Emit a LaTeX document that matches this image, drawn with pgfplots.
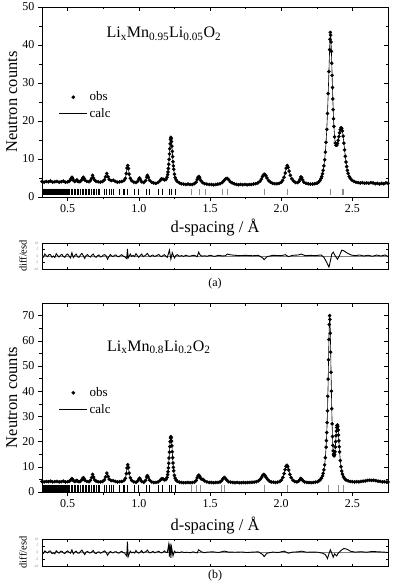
\documentclass[border=0pt]{standalone}
\usepackage{fontspec}
\setmainfont{Liberation Serif}
\usepackage{pgfplots}
\usepackage{pgfplotstable}
\pgfplotsset{compat=1.18}

% observed profile, panel (a)
\pgfplotstableread[row sep=\\]{d y\\
0.320 4.1\\ 0.335 3.9\\ 0.350 4.1\\ 0.365 4.0\\ 0.380 4.2\\ 0.395 3.9\\ 0.410 4.0\\ 0.425 4.1\\ 0.440 3.9\\ 0.455 4.0\\
0.470 4.2\\ 0.485 3.9\\ 0.500 4.0\\ 0.510 4.1\\ 0.520 4.5\\ 0.525 4.9\\ 0.530 5.2\\ 0.535 4.9\\ 0.540 4.4\\ 0.550 4.1\\
0.560 4.3\\ 0.565 4.5\\ 0.570 4.2\\ 0.580 4.0\\ 0.590 4.1\\ 0.600 4.5\\ 0.605 4.9\\ 0.610 5.2\\ 0.615 4.9\\ 0.622 4.4\\
0.635 4.1\\ 0.650 4.0\\ 0.660 4.3\\ 0.668 4.9\\ 0.675 5.7\\ 0.682 5.0\\ 0.690 4.4\\ 0.700 4.1\\ 0.715 4.0\\ 0.730 3.9\\
0.745 4.1\\ 0.758 4.5\\ 0.766 5.3\\ 0.775 6.2\\ 0.784 5.3\\ 0.792 4.6\\ 0.805 4.3\\ 0.820 4.4\\ 0.835 4.1\\ 0.850 3.9\\
0.865 4.0\\ 0.880 4.1\\ 0.895 4.3\\ 0.905 4.9\\ 0.912 6.2\\ 0.917 7.6\\ 0.922 8.3\\ 0.927 7.5\\ 0.932 6.0\\ 0.940 4.9\\
0.950 4.3\\ 0.965 3.9\\ 0.980 3.8\\ 0.992 4.1\\ 1.000 4.7\\ 1.005 5.0\\ 1.010 4.7\\ 1.020 4.0\\ 1.035 3.8\\ 1.048 4.3\\
1.055 5.2\\ 1.060 5.7\\ 1.066 5.2\\ 1.075 4.4\\ 1.090 3.9\\ 1.105 3.7\\ 1.120 3.6\\ 1.135 3.8\\ 1.150 4.3\\ 1.160 4.8\\
1.170 4.7\\ 1.180 4.5\\ 1.190 4.6\\ 1.198 5.2\\ 1.2025 5.9\\ 1.205 6.6\\ 1.2075 7.5\\ 1.210 8.6\\ 1.2125 9.9\\ 1.215 11.3\\
1.2175 12.7\\ 1.220 14.0\\ 1.2225 15.1\\ 1.225 15.7\\ 1.2275 15.4\\ 1.230 14.6\\ 1.2325 13.4\\ 1.235 12.0\\ 1.2375 10.6\\ 1.240 9.3\\
1.2425 8.2\\ 1.245 7.3\\ 1.250 6.0\\ 1.255 5.1\\ 1.262 4.5\\ 1.270 4.1\\ 1.285 3.7\\ 1.300 3.5\\ 1.315 3.4\\ 1.330 3.3\\
1.345 3.4\\ 1.360 3.3\\ 1.375 3.3\\ 1.390 3.5\\ 1.402 3.9\\ 1.410 4.6\\ 1.416 5.2\\ 1.422 5.4\\ 1.428 5.0\\ 1.436 4.3\\
1.448 3.8\\ 1.462 3.5\\ 1.478 3.4\\ 1.495 3.3\\ 1.510 3.3\\ 1.525 3.2\\ 1.540 3.3\\ 1.555 3.4\\ 1.570 3.5\\ 1.585 3.8\\
1.598 4.3\\ 1.610 4.8\\ 1.620 4.9\\ 1.630 4.6\\ 1.642 4.0\\ 1.655 3.7\\ 1.670 3.5\\ 1.685 3.3\\ 1.700 3.2\\ 1.715 3.3\\
1.730 3.2\\ 1.745 3.3\\ 1.760 3.2\\ 1.775 3.3\\ 1.790 3.3\\ 1.805 3.4\\ 1.820 3.5\\ 1.835 3.7\\ 1.850 4.1\\ 1.860 4.7\\
1.868 5.4\\ 1.876 5.9\\ 1.884 6.0\\ 1.892 5.6\\ 1.900 5.0\\ 1.912 4.3\\ 1.925 3.9\\ 1.940 3.6\\ 1.955 3.5\\ 1.970 3.5\\
1.985 3.6\\ 2.000 3.9\\ 2.010 4.4\\ 2.020 5.2\\ 2.028 6.3\\ 2.035 7.6\\ 2.042 8.3\\ 2.049 7.8\\ 2.056 6.8\\ 2.064 5.7\\
2.074 4.8\\ 2.086 4.2\\ 2.100 3.8\\ 2.115 3.8\\ 2.125 4.1\\ 2.132 4.7\\ 2.138 5.3\\ 2.144 5.1\\ 2.150 4.5\\ 2.160 3.9\\
2.175 3.6\\ 2.190 3.5\\ 2.205 3.4\\ 2.220 3.4\\ 2.235 3.5\\ 2.250 3.6\\ 2.262 3.9\\ 2.272 4.3\\ 2.280 4.9\\ 2.285 5.4\\
2.290 6.1\\ 2.295 7.0\\ 2.300 8.2\\ 2.305 9.8\\ 2.310 11.8\\ 2.315 14.4\\ 2.320 17.8\\ 2.325 22.0\\ 2.330 27.2\\ 2.335 33.0\\
2.340 38.8\\ 2.3425 41.5\\ 2.345 43.3\\ 2.3475 42.6\\ 2.350 40.8\\ 2.3525 38.3\\ 2.355 35.2\\ 2.3575 32.0\\ 2.360 28.8\\ 2.3625 25.8\\
2.365 23.0\\ 2.3675 20.6\\ 2.370 18.6\\ 2.375 15.8\\ 2.380 14.2\\ 2.385 13.6\\ 2.390 13.6\\ 2.395 14.1\\ 2.400 14.9\\ 2.405 15.9\\
2.410 16.9\\ 2.415 17.7\\ 2.420 18.2\\ 2.425 18.1\\ 2.430 17.4\\ 2.435 16.0\\ 2.440 14.2\\ 2.445 12.4\\ 2.450 10.7\\ 2.455 9.2\\
2.460 8.0\\ 2.465 7.0\\ 2.470 6.2\\ 2.4775 5.4\\ 2.485 4.9\\ 2.495 4.5\\ 2.510 4.1\\ 2.525 3.9\\ 2.540 3.8\\ 2.555 3.7\\
2.570 3.8\\ 2.585 3.6\\ 2.600 3.7\\ 2.615 3.6\\ 2.630 3.8\\ 2.645 3.7\\ 2.660 3.5\\ 2.675 3.6\\ 2.690 3.4\\ 2.705 3.6\\
2.720 3.5\\ 2.735 3.7\\ 2.750 3.6\\
}\obsA

% observed profile, panel (b)
\pgfplotstableread[row sep=\\]{d y\\
0.320 4.2\\ 0.335 4.0\\ 0.350 4.2\\ 0.365 4.1\\ 0.380 4.3\\ 0.395 4.0\\ 0.410 4.1\\ 0.425 4.2\\ 0.440 4.0\\ 0.455 4.1\\
0.470 4.3\\ 0.485 4.0\\ 0.500 4.1\\ 0.510 4.2\\ 0.520 4.6\\ 0.525 5.0\\ 0.530 5.3\\ 0.535 5.0\\ 0.540 4.5\\ 0.550 4.2\\
0.560 4.4\\ 0.565 4.6\\ 0.570 4.3\\ 0.580 4.1\\ 0.590 4.2\\ 0.600 4.8\\ 0.605 5.3\\ 0.610 5.7\\ 0.615 5.3\\ 0.622 4.6\\
0.635 4.2\\ 0.650 4.1\\ 0.660 4.6\\ 0.668 5.7\\ 0.675 7.0\\ 0.682 5.9\\ 0.690 4.8\\ 0.700 4.3\\ 0.715 4.1\\ 0.730 4.0\\
0.745 4.2\\ 0.758 4.8\\ 0.766 6.0\\ 0.775 7.5\\ 0.784 6.2\\ 0.792 5.1\\ 0.805 4.5\\ 0.820 4.5\\ 0.835 4.2\\ 0.850 4.0\\
0.865 4.1\\ 0.880 4.2\\ 0.895 4.5\\ 0.905 5.4\\ 0.912 7.3\\ 0.917 9.5\\ 0.922 10.8\\ 0.927 9.7\\ 0.932 7.5\\ 0.940 5.6\\
0.950 4.6\\ 0.965 4.0\\ 0.980 3.9\\ 0.992 4.3\\ 1.000 5.1\\ 1.005 5.5\\ 1.010 5.1\\ 1.020 4.2\\ 1.035 3.9\\ 1.048 4.6\\
1.055 5.9\\ 1.060 6.5\\ 1.066 5.9\\ 1.075 4.8\\ 1.090 4.0\\ 1.105 3.8\\ 1.120 3.8\\ 1.135 4.0\\ 1.150 4.6\\ 1.160 5.3\\
1.170 5.2\\ 1.180 4.8\\ 1.190 4.9\\ 1.198 5.8\\ 1.2025 6.9\\ 1.205 8.0\\ 1.2075 9.6\\ 1.210 11.4\\ 1.2125 13.5\\ 1.215 15.8\\
1.2175 18.0\\ 1.220 20.0\\ 1.2225 21.4\\ 1.225 22.0\\ 1.2275 21.5\\ 1.230 20.2\\ 1.2325 18.3\\ 1.235 16.0\\ 1.2375 13.6\\ 1.240 11.5\\
1.2425 9.8\\ 1.245 8.4\\ 1.250 6.6\\ 1.255 5.5\\ 1.262 4.7\\ 1.270 4.3\\ 1.285 3.9\\ 1.300 3.8\\ 1.315 3.7\\ 1.330 3.7\\
1.345 3.8\\ 1.360 3.7\\ 1.375 3.8\\ 1.390 3.9\\ 1.402 4.5\\ 1.410 5.6\\ 1.416 6.4\\ 1.422 6.7\\ 1.428 6.1\\ 1.436 5.3\\
1.444 5.0\\ 1.452 5.0\\ 1.462 4.4\\ 1.478 4.0\\ 1.495 3.8\\ 1.510 3.8\\ 1.525 3.7\\ 1.540 3.8\\ 1.555 3.8\\ 1.570 4.0\\
1.582 4.5\\ 1.592 5.3\\ 1.600 5.8\\ 1.608 5.4\\ 1.618 4.7\\ 1.630 4.1\\ 1.645 3.9\\ 1.660 3.8\\ 1.675 3.7\\ 1.690 3.8\\
1.705 3.7\\ 1.720 3.7\\ 1.735 3.8\\ 1.750 3.7\\ 1.765 3.8\\ 1.780 3.8\\ 1.795 3.9\\ 1.810 3.9\\ 1.825 4.1\\ 1.840 4.4\\
1.852 5.0\\ 1.862 5.8\\ 1.870 6.6\\ 1.878 7.0\\ 1.886 6.6\\ 1.894 5.8\\ 1.904 5.0\\ 1.916 4.4\\ 1.930 4.0\\ 1.945 3.9\\
1.960 3.8\\ 1.975 3.9\\ 1.990 4.2\\ 2.002 4.8\\ 2.012 5.8\\ 2.020 7.3\\ 2.027 8.9\\ 2.034 10.2\\ 2.040 10.6\\ 2.046 10.0\\
2.053 8.7\\ 2.061 7.0\\ 2.070 5.7\\ 2.082 4.7\\ 2.095 4.2\\ 2.110 4.0\\ 2.122 4.3\\ 2.130 4.9\\ 2.137 5.4\\ 2.144 5.1\\
2.152 4.5\\ 2.165 4.0\\ 2.180 3.8\\ 2.195 3.8\\ 2.210 3.7\\ 2.225 3.8\\ 2.240 3.9\\ 2.255 4.1\\ 2.265 4.4\\ 2.275 4.9\\
2.2825 5.5\\ 2.290 6.4\\ 2.295 7.4\\ 2.300 8.8\\ 2.305 10.8\\ 2.310 13.6\\ 2.315 17.8\\ 2.3175 20.4\\ 2.320 23.6\\ 2.3225 27.5\\
2.325 32.2\\ 2.3275 38.0\\ 2.330 44.8\\ 2.3325 52.5\\ 2.335 60.5\\ 2.3375 66.5\\ 2.340 70.0\\ 2.3425 68.5\\ 2.345 63.0\\ 2.3475 55.5\\
2.350 47.5\\ 2.3525 40.0\\ 2.355 33.0\\ 2.3575 27.0\\ 2.360 22.0\\ 2.3625 18.5\\ 2.365 16.3\\ 2.3675 15.0\\ 2.370 14.4\\ 2.3725 14.4\\
2.375 14.9\\ 2.3775 16.0\\ 2.380 17.8\\ 2.3825 20.0\\ 2.385 22.3\\ 2.3875 24.2\\ 2.390 25.6\\ 2.3925 26.4\\ 2.395 26.6\\ 2.3975 26.0\\
2.400 24.6\\ 2.4025 22.6\\ 2.405 20.3\\ 2.4075 18.0\\ 2.410 15.9\\ 2.415 12.5\\ 2.420 10.0\\ 2.425 8.3\\ 2.430 7.1\\ 2.4375 6.0\\
2.445 5.3\\ 2.455 4.8\\ 2.470 4.4\\ 2.485 4.2\\ 2.500 4.1\\ 2.515 4.0\\ 2.530 4.1\\ 2.545 4.0\\ 2.560 4.2\\ 2.575 4.3\\
2.590 4.4\\ 2.605 4.6\\ 2.620 4.7\\ 2.635 4.6\\ 2.650 4.7\\ 2.665 4.5\\ 2.680 4.3\\ 2.695 4.2\\ 2.710 4.0\\ 2.725 4.1\\
2.740 3.9\\ 2.750 4.0\\
}\obsB

% reflection positions (black and grey sets); ya, yb = bar centre in panel (a), (b)
\pgfplotstableread[row sep=\\]{d ya yb\\
0.322 1.35 1.45\\ 0.328 1.35 1.45\\ 0.334 1.35 1.45\\ 0.340 1.35 1.45\\ 0.346 1.35 1.45\\ 0.352 1.35 1.45\\
0.358 1.35 1.45\\ 0.364 1.35 1.45\\ 0.370 1.35 1.45\\ 0.376 1.35 1.45\\ 0.382 1.35 1.45\\ 0.388 1.35 1.45\\
0.394 1.35 1.45\\ 0.400 1.35 1.45\\ 0.406 1.35 1.45\\ 0.412 1.35 1.45\\ 0.418 1.35 1.45\\ 0.424 1.35 1.45\\
0.430 1.35 1.45\\ 0.436 1.35 1.45\\ 0.442 1.35 1.45\\ 0.448 1.35 1.45\\ 0.454 1.35 1.45\\ 0.460 1.35 1.45\\
0.466 1.35 1.45\\ 0.472 1.35 1.45\\ 0.478 1.35 1.45\\ 0.484 1.35 1.45\\ 0.490 1.35 1.45\\ 0.496 1.35 1.45\\
0.503 1.35 1.45\\ 0.514 1.35 1.45\\ 0.526 1.35 1.45\\ 0.537 1.35 1.45\\ 0.547 1.35 1.45\\ 0.556 1.35 1.45\\
0.568 1.35 1.45\\ 0.579 1.35 1.45\\ 0.589 1.35 1.45\\ 0.601 1.35 1.45\\ 0.613 1.35 1.45\\ 0.625 1.35 1.45\\
0.634 1.35 1.45\\ 0.646 1.35 1.45\\ 0.655 1.35 1.45\\ 0.667 1.35 1.45\\ 0.678 1.35 1.45\\ 0.690 1.35 1.45\\
0.702 1.35 1.45\\ 0.714 1.35 1.45\\ 0.725 1.35 1.45\\ 0.761 1.35 1.45\\ 0.772 1.35 1.45\\ 0.796 1.35 1.45\\
0.808 1.35 1.45\\ 0.824 1.35 1.45\\ 0.866 1.35 1.45\\ 0.889 1.35 1.45\\ 0.901 1.35 1.45\\ 0.918 1.35 1.45\\
0.967 1.35 1.45\\ 0.995 1.35 1.45\\ 1.054 1.35 1.45\\ 1.077 1.35 1.45\\ 1.140 1.35 1.45\\ 1.167 1.35 1.45\\
1.213 1.35 1.45\\ 1.230 1.35 1.45\\ 1.254 1.35 1.45\\
}\refBlack
\pgfplotstableread[row sep=\\]{d y\\
1.370 1.35\\ 1.425 1.35\\ 1.465 1.35\\ 1.590 1.35\\ 1.620 1.35\\ 1.880 1.35\\ 2.040 1.35\\ 2.345 1.35\\ 2.430 1.35\\ 2.440 1.35\\
}\refGreyA
\pgfplotstableread[row sep=\\]{d y\\
1.370 1.45\\ 1.406 1.45\\ 1.430 1.45\\ 1.580 1.45\\ 1.600 1.45\\ 1.880 1.45\\ 2.040 1.45\\ 2.333 1.45\\ 2.400 1.45\\ 2.440 1.45\\
}\refGreyB

\pgfplotsset{
  base/.style={scale only axis, width=346pt, xmin=0.32, xmax=2.75,
    xtick={0.5,1,1.5,2,2.5}, minor x tick num=1,
    tick style={black, line width=0.5pt}, axis line style={line width=0.6pt},
    major tick length=4pt, minor tick length=2.5pt,
    /pgf/number format/assume math mode=true,
    ticklabel style={font=\fontsize{12}{12}\selectfont}},
  main/.style={base, tick align=outside, xtick pos=left, ytick pos=left, minor y tick num=1,
    xticklabel style={/pgf/number format/.cd, fixed, fixed zerofill, precision=1},
    xlabel={d-spacing / Å}, ylabel={Neutron counts},
    label style={font=\fontsize{16.5}{16.5}\selectfont},
    ylabel style={at={(axis description cs:-0.087,0.5)}, anchor=center},
    legend style={draw=none, fill=none, font=\fontsize{13}{13}\selectfont,
      at={(axis description cs:0.04,0.575)}, anchor=north west, row sep=2pt},
    legend cell align=left},
  inner/.style={base, tick align=inside, xtick pos=right, ytick pos=right, minor y tick num=1,
    xticklabels={}, yticklabels={}},
  diff/.style={base, height=26pt, ymin=-10, ymax=10, ytick={-10,-5,0,5,10},
    tick align=inside, major tick length=2.5pt, minor tick length=1.5pt, xticklabels={},
    yticklabel style={font=\fontsize{3.5}{3.5}\selectfont, text=gray},
    ylabel={diff/esd}, ylabel style={font=\fontsize{10.5}{10.5}\selectfont,
      at={(axis description cs:-0.055,0.5)}, anchor=center}},
  obsimg/.style={legend image code/.code={\fill (14pt,0pt) circle (1.6pt);}},
  calcimg/.style={legend image code/.code={\draw[line width=0.6pt] (0pt,0pt) -- (28pt,0pt);}},
  refl/.style={only marks, mark=|, mark options={line width=0.8pt}, forget plot},
  obs/.style={only marks, mark=*, mark size=1.6pt, black, obsimg},
  calc/.style={black, line width=0.6pt, calcimg},
  dtrace/.style={black, line width=0.9pt},
}

\begin{document}
\begin{tikzpicture}
\path[use as bounding box] (0,0) rectangle (392pt,-585pt);

% ---- panel (a)
\begin{axis}[main, at={(42pt,-7pt)}, anchor=north west, height=190pt, ymin=0, ymax=50,
  ytick={0,10,...,50}, xlabel style={at={(axis description cs:0.5,-0.163)}, anchor=center}]
\addplot[obs] table[x=d, y=y] {\obsA};
\addlegendentry{obs}
\addplot[calc] table[x=d, y=y] {\obsA};
\addlegendentry{calc}
\addplot[refl, mark size=3.2pt, black] table[x=d, y=ya] {\refBlack};
\addplot[refl, mark size=3.2pt, black!45] table[x=d, y=y] {\refGreyA};
\node[font=\fontsize{16}{16}\selectfont] at (axis cs:1.176,42.9)
  {Li\textsubscript{x}Mn\textsubscript{0.95}Li\textsubscript{0.05}O\textsubscript{2}};
\end{axis}
\begin{axis}[inner, at={(42pt,-7pt)}, anchor=north west, height=190pt, ymin=0, ymax=50, ytick={0,10,...,50}]
\addplot[draw=none] coordinates {(1,1)};
\end{axis}

\begin{axis}[diff, at={(42pt,-243pt)}, anchor=north west]
\addplot[gray, line width=0.5pt] coordinates {(0.32,0) (2.75,0)};
\addplot[dtrace] table[row sep=\\] {d y\\
0.32 0.5\\ 0.33 -0.8\\ 0.34 1.5\\ 0.35 0.2\\ 0.36 -0.5\\ 0.37 1.2\\ 0.38 1.0\\ 0.39 -1.0\\ 0.40 0.0\\ 0.41 -1.2\\
0.42 1.8\\ 0.43 0.3\\ 0.44 -0.8\\ 0.45 0.6\\ 0.46 1.2\\ 0.47 -0.4\\ 0.48 -1.0\\ 0.49 0.8\\ 0.50 1.5\\ 0.51 0.0\\
0.52 -1.5\\ 0.53 2.5\\ 0.54 -1.2\\ 0.55 0.4\\ 0.56 1.5\\ 0.57 -0.6\\ 0.58 -1.0\\ 0.59 0.8\\ 0.60 2.0\\ 0.61 0.2\\
0.62 -1.8\\ 0.63 0.5\\ 0.64 1.0\\ 0.65 -0.2\\ 0.66 -0.8\\ 0.67 0.6\\ 0.68 1.5\\ 0.69 -0.5\\ 0.70 -1.0\\ 0.71 0.3\\
0.72 0.8\\ 0.73 -0.7\\ 0.74 -0.5\\ 0.75 0.7\\ 0.76 1.0\\ 0.77 0.2\\ 0.78 -2.5\\ 0.79 -0.5\\ 0.80 1.2\\ 0.81 0.0\\
0.82 -0.5\\ 0.83 0.6\\ 0.84 0.8\\ 0.85 -0.3\\ 0.86 -0.6\\ 0.87 0.5\\ 0.88 1.0\\ 0.89 0.0\\ 0.90 -0.5\\ 0.915 -2.0\\
0.92 5.5\\ 0.925 -1.5\\ 0.94 1.5\\ 0.95 -0.3\\ 0.96 0.5\\ 0.97 -0.5\\ 0.98 1.8\\ 0.99 0.2\\ 1.00 -1.0\\ 1.01 0.5\\
1.02 1.5\\ 1.03 -0.4\\ 1.04 0.0\\ 1.05 0.8\\ 1.06 2.0\\ 1.07 0.3\\ 1.08 -0.5\\ 1.09 0.4\\ 1.10 0.8\\ 1.11 -0.3\\
1.12 0.0\\ 1.13 0.6\\ 1.14 1.2\\ 1.15 0.0\\ 1.16 -0.5\\ 1.17 0.4\\ 1.18 1.0\\ 1.19 -0.2\\ 1.20 -1.0\\ 1.215 4.5\\
1.225 -2.5\\ 1.235 2.5\\ 1.25 -1.5\\ 1.26 0.4\\ 1.27 1.0\\ 1.285 -0.2\\ 1.30 0.3\\ 1.315 -0.3\\ 1.33 0.6\\ 1.345 0.0\\
1.36 -0.2\\ 1.375 0.4\\ 1.39 0.5\\ 1.41 -0.5\\ 1.42 3.0\\ 1.43 0.8\\ 1.445 -0.2\\ 1.46 0.2\\ 1.48 -0.2\\ 1.50 0.6\\
1.53 -0.3\\ 1.56 0.5\\ 1.59 0.0\\ 1.61 0.3\\ 1.62 1.5\\ 1.65 0.8\\ 1.70 0.3\\ 1.75 0.5\\ 1.80 0.2\\ 1.84 0.5\\
1.87 -1.5\\ 1.88 -2.8\\ 1.90 -0.5\\ 1.94 0.5\\ 2.00 0.3\\ 2.03 1.0\\ 2.05 -0.5\\ 2.08 0.5\\ 2.12 0.8\\ 2.14 1.5\\
2.17 0.2\\ 2.20 0.5\\ 2.24 0.3\\ 2.28 0.8\\ 2.30 -1.0\\ 2.32 -5.0\\ 2.335 -8.5\\ 2.345 -4.0\\ 2.355 1.5\\ 2.365 3.0\\
2.38 0.0\\ 2.395 -2.5\\ 2.41 0.5\\ 2.425 4.5\\ 2.44 4.0\\ 2.46 2.5\\ 2.49 0.8\\ 2.52 0.2\\ 2.55 0.8\\ 2.58 0.0\\
2.61 0.6\\ 2.64 -0.2\\ 2.67 0.7\\ 2.70 0.0\\ 2.73 0.8\\ 2.75 -0.3\\
};
\end{axis}
\node[font=\fontsize{12}{12}\selectfont] at (215pt,-284pt) {(a)};

% ---- panel (b)
\begin{axis}[main, at={(42pt,-303pt)}, anchor=north west, height=189pt, ymin=0, ymax=75,
  ytick={0,10,...,70}, xlabel style={at={(axis description cs:0.5,-0.175)}, anchor=center}]
\addplot[obs] table[x=d, y=y] {\obsB};
\addlegendentry{obs}
\addplot[calc] table[x=d, y=y] {\obsB};
\addlegendentry{calc}
\addplot[refl, mark size=3.4pt, black] table[x=d, y=yb] {\refBlack};
\addplot[refl, mark size=3.4pt, black!45] table[x=d, y=y] {\refGreyB};
\node[font=\fontsize{16}{16}\selectfont] at (axis cs:1.14,57.5)
  {Li\textsubscript{x}Mn\textsubscript{0.8}Li\textsubscript{0.2}O\textsubscript{2}};
\end{axis}
\begin{axis}[inner, at={(42pt,-303pt)}, anchor=north west, height=189pt, ymin=0, ymax=75, ytick={0,10,...,70}]
\addplot[draw=none] coordinates {(1,1)};
\end{axis}

\begin{axis}[diff, at={(42pt,-539pt)}, anchor=north west, height=27pt]
\addplot[gray, line width=0.5pt] coordinates {(0.32,0) (2.75,0)};
\addplot[dtrace] table[row sep=\\] {d y\\
0.32 0.5\\ 0.33 -0.6\\ 0.34 1.2\\ 0.35 0.3\\ 0.36 -0.3\\ 0.37 1.0\\ 0.38 1.0\\ 0.39 -0.8\\ 0.40 -0.2\\ 0.41 -1.0\\
0.42 1.3\\ 0.43 0.2\\ 0.44 -0.5\\ 0.45 0.8\\ 0.46 1.0\\ 0.47 -0.3\\ 0.48 -0.8\\ 0.49 0.6\\ 0.50 1.2\\ 0.51 0.2\\
0.52 -0.5\\ 0.53 2.0\\ 0.54 -1.0\\ 0.55 0.3\\ 0.56 1.0\\ 0.57 -0.4\\ 0.58 -0.5\\ 0.59 0.7\\ 0.60 1.8\\ 0.61 0.1\\
0.62 -1.5\\ 0.63 0.4\\ 0.64 0.8\\ 0.65 -0.2\\ 0.66 -0.3\\ 0.67 0.5\\ 0.68 1.5\\ 0.69 -0.3\\ 0.70 -0.8\\ 0.71 0.2\\
0.72 0.5\\ 0.73 -0.5\\ 0.74 0.0\\ 0.75 0.6\\ 0.76 1.2\\ 0.77 0.2\\ 0.78 -2.0\\ 0.79 -0.4\\ 0.80 0.8\\ 0.81 0.0\\
0.82 -0.3\\ 0.83 0.5\\ 0.84 0.6\\ 0.85 -0.2\\ 0.86 -0.5\\ 0.87 0.4\\ 0.88 0.8\\ 0.89 0.0\\ 0.90 -0.4\\ 0.915 -2.5\\
0.92 8.0\\ 0.925 -3.0\\ 0.94 1.0\\ 0.95 -0.2\\ 0.96 0.3\\ 0.97 -0.4\\ 0.98 1.5\\ 0.99 0.1\\ 1.00 -0.5\\ 1.01 0.4\\
1.02 1.5\\ 1.03 -0.3\\ 1.04 0.2\\ 1.05 0.7\\ 1.06 1.8\\ 1.07 0.2\\ 1.08 -0.3\\ 1.09 0.3\\ 1.10 0.8\\ 1.11 -0.2\\
1.12 0.2\\ 1.13 0.5\\ 1.14 1.0\\ 1.15 0.0\\ 1.16 -0.3\\ 1.17 0.3\\ 1.18 1.2\\ 1.19 0.1\\ 1.20 0.0\\ 1.21 6.0\\
1.215 -3.0\\ 1.22 6.5\\ 1.225 -4.0\\ 1.23 4.0\\ 1.24 -2.5\\ 1.25 1.0\\ 1.26 -0.2\\ 1.27 0.3\\ 1.285 -0.1\\ 1.30 0.5\\
1.32 0.0\\ 1.34 0.2\\ 1.36 -0.2\\ 1.38 0.5\\ 1.41 -0.3\\ 1.42 2.0\\ 1.44 0.5\\ 1.46 -0.1\\ 1.48 0.3\\ 1.52 0.5\\
1.56 0.0\\ 1.60 1.0\\ 1.63 0.3\\ 1.68 0.2\\ 1.72 0.4\\ 1.76 0.0\\ 1.80 0.3\\ 1.84 0.5\\ 1.87 -1.5\\ 1.88 -3.0\\
1.90 -0.5\\ 1.94 0.3\\ 1.98 0.0\\ 2.02 1.0\\ 2.05 -0.5\\ 2.08 0.3\\ 2.12 0.5\\ 2.14 1.0\\ 2.18 0.2\\ 2.22 0.3\\
2.26 0.2\\ 2.29 -0.5\\ 2.31 -1.5\\ 2.325 -4.5\\ 2.335 -1.0\\ 2.345 2.0\\ 2.355 -0.5\\ 2.365 -3.5\\ 2.375 -1.0\\ 2.39 -2.5\\
2.40 -0.5\\ 2.42 1.5\\ 2.44 3.0\\ 2.46 2.5\\ 2.49 0.8\\ 2.52 0.3\\ 2.56 0.6\\ 2.60 0.2\\ 2.64 0.8\\ 2.68 0.5\\
2.72 0.3\\ 2.75 0.0\\
};
\end{axis}
\node[font=\fontsize{12}{12}\selectfont] at (215pt,-576pt) {(b)};
\end{tikzpicture}
\end{document}
